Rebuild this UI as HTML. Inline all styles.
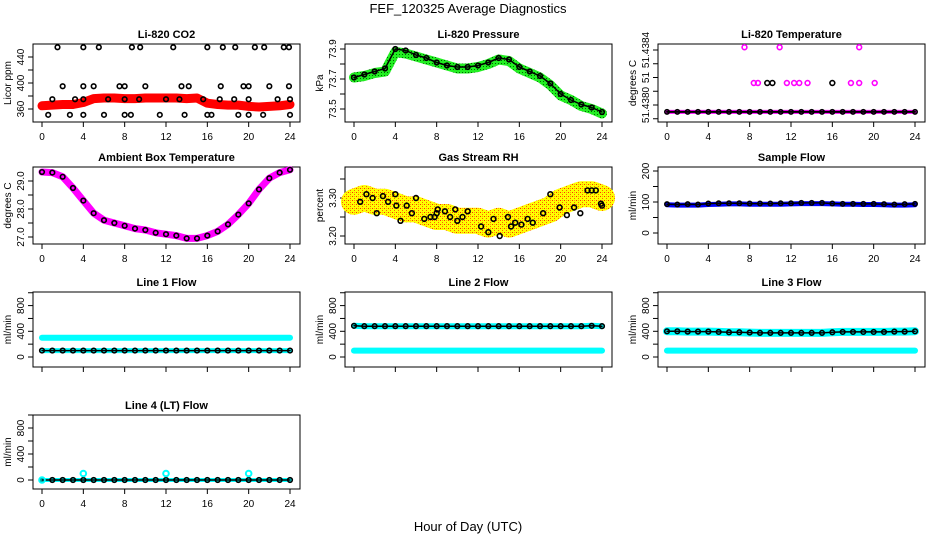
<!DOCTYPE html>
<html><head><meta charset="utf-8"><style>
body{margin:0;background:#fff}
svg text{font-family:"Liberation Sans",sans-serif}
</style></head><body>
<svg id="chart" width="936" height="540" viewBox="0 0 936 540" xmlns="http://www.w3.org/2000/svg">
<defs>
<pattern id="rhpat" width="4" height="4" patternUnits="userSpaceOnUse"><rect width="4" height="4" fill="#ffff00"/><rect width="1" height="1" fill="#ff3300"/><rect x="2" y="2" width="1" height="1" fill="#ff6600"/><rect x="2" y="0" width="1" height="1" fill="#ffaa00"/></pattern>
<pattern id="grpat" width="3" height="3" patternUnits="userSpaceOnUse"><rect width="3" height="3" fill="#22ee22"/><rect width="1" height="1" fill="#006600"/></pattern>
</defs>
<text x="468" y="13" font-size="13" text-anchor="middle">FEF_120325  Average Diagnostics</text>
<text x="468" y="531" font-size="13" text-anchor="middle">Hour of Day (UTC)</text>
</svg>
<script>
// ---- data ----
const hours = [0,1,2,3,4,5,6,7,8,9,10,11,12,13,14,15,16,17,18,19,20,21,22,23,24];
const xTicks = [0,4,8,12,16,20,24];
const co2Band = [365,366,367,367,370,376,377,377,376,376,377,377,377,377,376,377,369,367,366,366,364,363,364,365,367];
const co2PtHours = [1.5,4,5.5,8.7,9.5,12.7,16,17.5,18.7,20.6,21.5,23.4,23.9,2,4,5,7.5,8,10,13.5,14.2,17.3,19.5,20,22,23.9,1,3.2,4,6.4,8,9.4,12,13.3,15.6,17.2,18.6,20,22.8,24,0.6,2.7,4,6,8,8.6,11.4,13.8,16,16.4,19,20,21.4,24];
const co2PtVals = [455,455,455,455,455,455,455,455,455,455,455,455,455,395,395,395,395,395,395,395,395,395,395,395,395,395,375,375,375,375,375,375,375,375,375,375,375,375,375,375,351,351,351,351,351,351,351,351,351,351,351,351,351,351];
const presBand = [73.71,73.72,73.74,73.75,73.88,73.87,73.85,73.83,73.81,73.79,73.77,73.77,73.78,73.80,73.83,73.82,73.77,73.74,73.71,73.66,73.59,73.56,73.52,73.50,73.47];
const presPts = [73.71,73.73,73.75,73.77,73.90,73.89,73.86,73.84,73.81,73.79,73.78,73.78,73.79,73.81,73.84,73.83,73.78,73.75,73.72,73.67,73.60,73.56,73.53,73.51,73.48];
const tempLowHours = [0,1,2,3,4,5,6,7,8,9,10,11,12,13,14,15,16,17,18,19,20,21,22,23,24];
const tempLowVals = [51.43795,51.43795,51.43795,51.43795,51.43795,51.43795,51.43795,51.43795,51.43795,51.43795,51.43795,51.43795,51.43795,51.43795,51.43795,51.43795,51.43795,51.43795,51.43795,51.43795,51.43795,51.43795,51.43795,51.43795,51.43795];
const tempMagHours = [7.5,10.9,18.6,8.4,8.8,11.6,12.3,12.8,13.6,17.8,18.6,20.1];
const tempMagVals = [51.43842,51.43842,51.43842,51.43816,51.43816,51.43816,51.43816,51.43816,51.43816,51.43816,51.43816,51.43816];
const tempBlkHours = [9.7,10.2,16.0];
const tempBlkVals = [51.43816,51.43816,51.43816];
const ambBand = [29.32,29.3,29.15,28.75,28.3,27.85,27.6,27.5,27.4,27.3,27.25,27.15,27.1,27.05,26.95,26.95,27.05,27.2,27.45,27.8,28.2,28.7,29.1,29.3,29.4];
const rhBand = [3.29,3.30,3.29,3.29,3.28,3.27,3.27,3.26,3.25,3.25,3.24,3.24,3.24,3.23,3.24,3.23,3.24,3.25,3.26,3.27,3.29,3.30,3.31,3.31,3.30];
const rhPtHours = [0.6,1.2,1.8,2.2,2.8,3.3,4,4.1,4.5,5.1,5.6,6,6.8,7.4,7.8,8,8.1,8.8,9.3,9.8,10,10.5,11,12.3,13,13.5,14.1,14.9,15.2,15.6,16.2,16.8,17.3,18.3,19,19.9,20.6,21.3,21.9,22.6,23,23.4,23.9,24];
const rhPtVals = [3.29,3.31,3.30,3.26,3.305,3.29,3.31,3.28,3.24,3.28,3.26,3.30,3.245,3.25,3.25,3.26,3.27,3.265,3.25,3.27,3.24,3.25,3.265,3.225,3.21,3.245,3.20,3.25,3.225,3.235,3.23,3.245,3.235,3.26,3.31,3.275,3.255,3.275,3.26,3.32,3.32,3.32,3.285,3.28];
const sampleBand = [91,90,90,90,92,93,94,94,93,93,93,93,94,95,95,95,94,93,93,92,92,91,90,90,91];
const sampleBlk = [93,92,93,92,95,96,96,96,95,95,95,96,96,97,97,97,95,94,94,94,94,93,92,93,94];
const l1Cyan = [300,300,300,300,300,300,300,300,300,300,300,300,300,300,300,300,300,300,300,300,300,300,300,300,300];
const l1Blk = [100,100,100,100,100,100,100,100,100,100,100,100,100,100,100,100,100,100,100,100,100,100,100,100,100];
const l2Cyan = [100,100,100,100,100,100,100,100,100,100,100,100,100,100,100,100,100,100,100,100,100,100,100,100,100];
const l2Blk = [485,480,480,480,480,480,480,480,480,480,480,480,480,480,480,480,480,480,480,480,480,480,480,485,480];
const l3Cyan = [100,100,100,100,100,100,100,100,100,100,100,100,100,100,100,100,100,100,100,100,100,100,100,100,100];
const l3Blk = [400,400,395,395,395,390,385,385,380,375,375,375,375,375,375,375,385,390,390,390,390,390,395,395,400];
const l4Blk = [0,0,0,0,0,0,0,0,0,0,0,0,0,0,0,0,0,0,0,0,0,0,0,0,0];
const l4SpikeHours = [0,4,12,20];
const l4SpikeVals = [0,100,100,100];

// ---- drawing ----
const svg = document.getElementById('chart');
const NS = 'http://www.w3.org/2000/svg';
const COLX = [42, 354, 667];
const XW = 248;
function el(tag, attrs, parent) {
  const e = document.createElementNS(NS, tag);
  for (const k in attrs) e.setAttribute(k, attrs[k]);
  (parent || svg).appendChild(e);
  return e;
}
function makePanel(cfg) {
  const g = el('g', {});
  
  
  const x0 = COLX[cfg.col];
  const xs = h => x0 + h / 24 * XW;
  const ys = v => cfg.p1 + (v - cfg.v1) * (cfg.p2 - cfg.p1) / (cfg.v2 - cfg.v1);
  const L = x0 - 9, R = x0 + XW + 10;
  const box = el('rect', {x: L, y: cfg.top, width: R - L, height: cfg.bot - cfg.top, fill: 'none', stroke: '#000', 'stroke-width': 1}, g);
  
  
  const t = el('text', {x: (L + R) / 2, y: cfg.top - 6, 'font-size': 11, 'font-weight': 'bold', 'text-anchor': 'middle'}, g);
  t.textContent = cfg.title;
  
  
  const yl = el('text', {x: 0, y: 0, 'font-size': 10, 'text-anchor': 'middle', transform: `translate(${L - 22},${(cfg.top + cfg.bot) / 2}) rotate(-90)`}, g);
  yl.textContent = cfg.ylab;
  
  
  const ya = el('line', {x1: L, x2: L, y1: ys(cfg.yt[0]), y2: ys(cfg.yt[cfg.yt.length - 1]), stroke: '#000'}, g);
  
  
  cfg.yt.forEach(v => {
    const tk = el('line', {x1: L - 5, x2: L, y1: ys(v), y2: ys(v), stroke: '#000'}, g);
    
    
  });
  cfg.yl.forEach((lab, i) => {
    const v = cfg.ylv[i];
    const tx = el('text', {x: 0, y: 0, 'font-size': 10, 'text-anchor': 'middle', transform: `translate(${L - 9},${ys(v)}) rotate(-90)`}, g);
    tx.textContent = lab;
    
    
  });
  xTicks.forEach(h => {
    const tk = el('line', {x1: xs(h), x2: xs(h), y1: cfg.bot, y2: cfg.bot + 5, stroke: '#000'}, g);
    
    
    if (cfg.xlab) {
      const tx = el('text', {x: xs(h), y: cfg.bot + 18, 'font-size': 10, 'text-anchor': 'middle'}, g);
      tx.textContent = String(h);
      
      
    }
  });
  return {g, xs, ys};
}
function band(p, hs, vals, color, w, name) {
  const pts = hs.map((h, i) => p.xs(h).toFixed(1) + ',' + p.ys(vals[i]).toFixed(1)).join(' ');
  const e = el('polyline', {points: pts, fill: 'none', stroke: color, 'stroke-width': w, 'stroke-linejoin': 'round', 'stroke-linecap': 'round'}, p.g);
  
  
}
function pts(p, hs, vals, color, r, name, sw) {
  hs.forEach((h, i) => {
    const c = el('circle', {cx: p.xs(h), cy: p.ys(vals[i]), r: r, fill: 'none', stroke: color, 'stroke-width': sw || 1.6}, p.g);
    
    
  });
}
const flowY = {v1: 0, v2: 400, yt: [0,200,400,600,800,1000], yl: ['0','400','800'], ylv: [0,400,800], ylab: 'ml/min'};

// Li-820 CO2
let p = makePanel({name: 'co2-panel', col: 0, top: 44, bot: 122, v1: 440, p1: 57, v2: 360, p2: 109, yt: [360,380,400,420,440], yl: ['360','400','440'], ylv: [360,400,440], title: 'Li-820 CO2', ylab: 'Licor ppm', xlab: true});
band(p, hours, co2Band, '#ff0000', 9, 'co2-red-series');
pts(p, co2PtHours, co2PtVals, '#000', 2.3, 'co2-black-point');

// Pressure
p = makePanel({name: 'pressure-panel', col: 1, top: 44, bot: 122, v1: 73.9, p1: 49, v2: 73.5, p2: 109, yt: [73.5,73.6,73.7,73.8,73.9], yl: ['73.5','73.7','73.9'], ylv: [73.5,73.7,73.9], title: 'Li-820 Pressure', ylab: 'kPa', xlab: true});
band(p, hours, presBand, 'url(#grpat)', 10, 'pressure-green-series');
band(p, hours, presPts, '#000', 1.5, 'pressure-black-line');
pts(p, hours, presPts, '#000', 2.3, 'pressure-black-point');

// Li-820 Temperature
p = makePanel({name: 'li820-temp-panel', col: 2, top: 44, bot: 122, v1: 51.4384, p1: 50, v2: 51.4380, p2: 105, yt: [51.4379,51.4380,51.4381,51.4382,51.4383,51.4384], yl: ['51.4384','51','51.4380'], ylv: [51.4384,51.4382,51.4380], title: 'Li-820 Temperature', ylab: 'degrees C', xlab: true});
band(p, tempLowHours, tempLowVals, '#ff00ff', 4, 'temp-magenta-base');
band(p, tempLowHours, tempLowVals, '#000', 2, 'temp-black-base');
pts(p, tempLowHours, tempLowVals, '#000', 2.2, 'temp-black-point-low');
pts(p, tempMagHours, tempMagVals, '#ff00ff', 2.4, 'temp-magenta-point');
pts(p, tempBlkHours, tempBlkVals, '#000', 2.4, 'temp-black-point');

// Ambient Box Temperature
p = makePanel({name: 'ambient-temp-panel', col: 0, top: 167, bot: 244, v1: 29, p1: 181, v2: 27, p2: 237, yt: [27,27.5,28,28.5,29], yl: ['27.0','28.0','29.0'], ylv: [27,28,29], title: 'Ambient Box Temperature', ylab: 'degrees C', xlab: true});
band(p, hours, ambBand, '#ff00ff', 7, 'ambient-magenta-series');
pts(p, hours, ambBand, '#000', 2.3, 'ambient-black-point');

// Gas Stream RH
p = makePanel({name: 'rh-panel', col: 1, top: 167, bot: 244, v1: 3.30, p1: 198, v2: 3.20, p2: 236, yt: [3.20,3.25,3.30,3.35], yl: ['3.20','3.30'], ylv: [3.20,3.30], title: 'Gas Stream RH', ylab: 'percent', xlab: true});
band(p, hours, rhBand, 'url(#rhpat)', 26, 'rh-orange-series');
pts(p, rhPtHours, rhPtVals, '#000', 2.4, 'rh-black-point');

// Sample Flow
p = makePanel({name: 'sample-flow-panel', col: 2, top: 167, bot: 244, v1: 200, p1: 171, v2: 0, p2: 233, yt: [0,50,100,150,200], yl: ['0','100','200'], ylv: [0,100,200], title: 'Sample Flow', ylab: 'ml/min', xlab: true});
band(p, hours, sampleBand, '#0000ff', 5, 'sample-blue-series');
band(p, hours, sampleBlk, '#000', 1.5, 'sample-black-line');
pts(p, hours, sampleBlk, '#000', 2.2, 'sample-black-point');

// Line 1
p = makePanel(Object.assign({name: 'line1-panel', col: 0, top: 292, bot: 367, p1: 357, p2: 331.3, title: 'Line 1 Flow', xlab: false}, flowY));
band(p, hours, l1Cyan, '#00ffff', 6, 'line1-cyan-series');
band(p, hours, l1Blk, '#00ffff', 5, 'line1-cyan-low');
band(p, hours, l1Blk, '#000', 1.5, 'line1-black-line');
pts(p, hours, l1Blk, '#000', 2.3, 'line1-black-point');

// Line 2
p = makePanel(Object.assign({name: 'line2-panel', col: 1, top: 292, bot: 367, p1: 357, p2: 331.3, title: 'Line 2 Flow', xlab: false}, flowY));
band(p, hours, l2Cyan, '#00ffff', 6, 'line2-cyan-series');
band(p, hours, l2Blk, '#00ffff', 6, 'line2-cyan-high');
band(p, hours, l2Blk, '#000', 1.5, 'line2-black-line');
pts(p, hours, l2Blk, '#000', 2.3, 'line2-black-point');

// Line 3
p = makePanel(Object.assign({name: 'line3-panel', col: 2, top: 292, bot: 367, p1: 357, p2: 331.3, title: 'Line 3 Flow', xlab: false}, flowY));
band(p, hours, l3Cyan, '#00ffff', 6, 'line3-cyan-series');
band(p, hours, l3Blk, '#00ffff', 8, 'line3-cyan-high');
band(p, hours, l3Blk, '#000', 1.5, 'line3-black-line');
pts(p, hours, l3Blk, '#000', 2.3, 'line3-black-point');

// Line 4
p = makePanel(Object.assign({name: 'line4-panel', col: 0, top: 415, bot: 489, p1: 480, p2: 454, title: 'Line 4 (LT) Flow', xlab: true}, flowY));
band(p, hours, l4Blk, '#00ffff', 4, 'line4-cyan-series');
band(p, hours, l4Blk, '#000', 1.5, 'line4-black-line');
pts(p, hours, l4Blk, '#000', 2.3, 'line4-black-point');
pts(p, l4SpikeHours, l4SpikeVals, '#00ffff', 2.8, 'line4-cyan-spike', 2);
</script>
</body></html>
